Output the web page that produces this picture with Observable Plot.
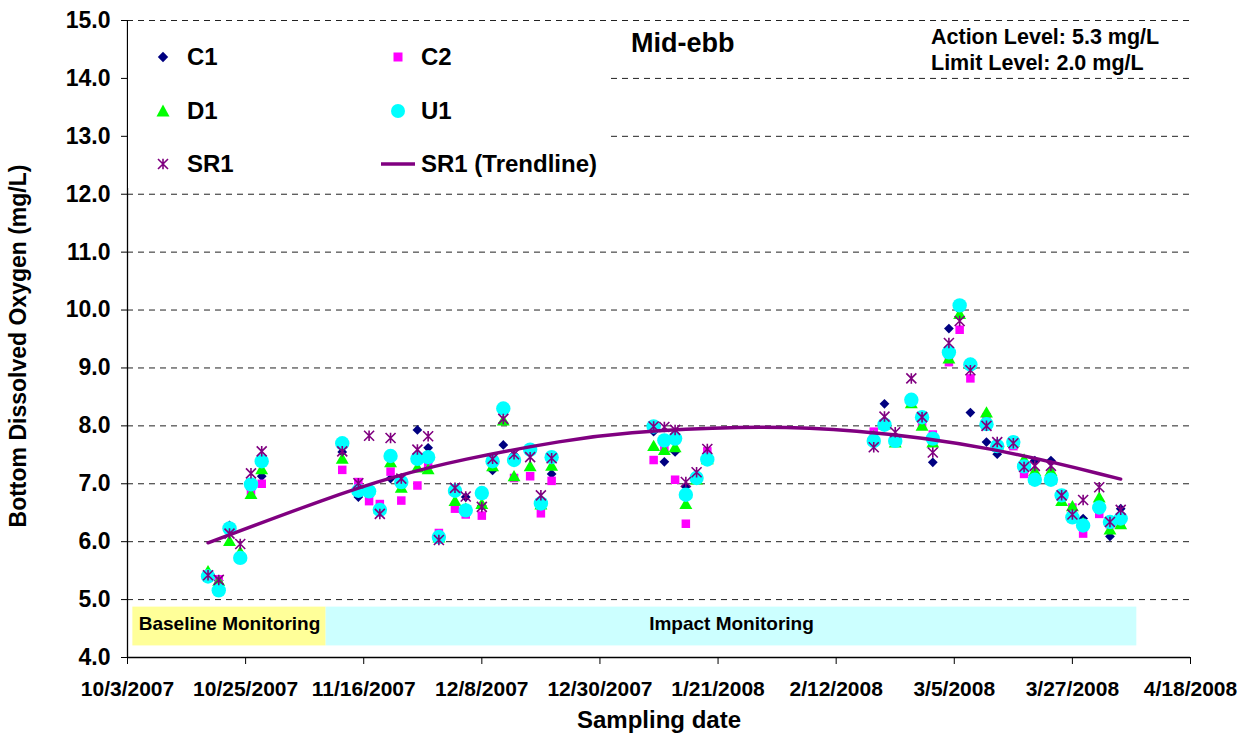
<!DOCTYPE html>
<html>
<head>
<meta charset="utf-8">
<script src="https://cdn.jsdelivr.net/npm/d3@7"></script>
<script src="https://cdn.jsdelivr.net/npm/@observablehq/plot@0.6"></script>
<style>
  body { margin: 0; background: #fff; }
  #wrap { position: relative; width: 1242px; height: 740px; font-family: "Liberation Sans", Arial, sans-serif; font-weight: bold; color: #000; }
  #wrap svg { display: block; }
  .legend { position: absolute; left: 128px; top: 21px; width: 478px; height: 167px; background: #fff; }
  .lgtext { position: absolute; font-size: 24px; line-height: 24px; white-space: nowrap; }
  .sw { position: absolute; overflow: visible; }
  .note { position: absolute; white-space: nowrap; }
</style>
</head>
<body>
<div id="wrap"></div>
<script>
// ---------------- data ----------------
const sampleDates = [
  "10/18/2007","10/20/2007","10/22/2007","10/24/2007","10/26/2007","10/28/2007",
  "11/12/2007","11/15/2007","11/17/2007","11/19/2007","11/21/2007","11/23/2007","11/26/2007","11/28/2007","11/30/2007",
  "12/3/2007","12/5/2007","12/8/2007","12/10/2007","12/12/2007","12/14/2007","12/17/2007","12/19/2007","12/21/2007",
  "1/9/2008","1/11/2008","1/13/2008","1/15/2008","1/17/2008","1/19/2008",
  "2/19/2008","2/21/2008","2/23/2008","2/26/2008","2/28/2008","3/1/2008","3/4/2008","3/6/2008","3/8/2008",
  "3/11/2008","3/13/2008","3/16/2008","3/18/2008","3/20/2008","3/23/2008","3/25/2008","3/27/2008","3/29/2008",
  "4/1/2008","4/3/2008","4/5/2008"
];
const c1 = [5.45,5.33,6.28,5.75,6.90,7.13, 7.55,6.77,6.85,6.55,7.09,6.98,7.93,7.62,6.05, 6.90,6.77,6.62,7.23,7.67,7.50,7.55,6.65,7.17, 7.90,7.38,7.55,6.95,7.15,7.45, 7.80,8.38,7.75,8.40,8.10,7.37,9.68,10.00,8.23, 7.72,7.51,7.70,7.30,7.40,7.40,6.80,6.50,6.40, 6.60,6.09,6.57];
const c2 = [5.40,5.35,6.20,5.70,6.88,7.00, 7.24,7.03,6.70,6.65,7.21,6.71,6.97,7.33,6.15, 6.57,6.47,6.45,7.45,8.30,7.10,7.13,6.49,7.05, 7.41,7.63,7.07,6.31,7.10,7.56, 7.90,8.00,7.75,8.40,8.00,7.85,9.10,9.66,8.82, 8.15,7.65,7.65,7.17,7.10,7.13,6.78,6.59,6.14, 6.48,6.30,6.35];
const d1 = [5.47,5.30,5.99,5.80,6.80,7.23, 7.41,6.88,6.88,6.55,7.35,6.91,7.26,7.23,6.05, 6.68,6.55,6.63,7.28,8.07,7.11,7.28,6.62,7.29, 7.63,7.56,7.61,6.63,7.05,7.40, 7.80,8.00,7.69,8.37,7.98,7.69,9.14,9.91,9.05, 8.21,7.65,7.70,7.40,7.20,7.20,6.68,6.59,6.30, 6.74,6.19,6.28];
const u1 = [5.40,5.16,6.23,5.72,6.99,7.39, 7.70,6.88,6.87,6.55,7.48,7.03,7.43,7.46,6.08, 6.88,6.54,6.84,7.39,8.30,7.41,7.59,6.66,7.46, 7.99,7.75,7.78,6.81,7.10,7.42, 7.74,8.02,7.74,8.45,8.15,7.78,9.27,10.08,9.06, 8.03,7.65,7.72,7.30,7.07,7.07,6.80,6.42,6.28, 6.59,6.34,6.40];
const sr1 = [5.42,5.34,6.14,5.96,7.18,7.56, 7.56,7.01,7.83,6.48,7.79,7.09,7.59,7.82,6.03, 6.93,6.78,6.60,7.43,8.12,7.51,7.46,6.80,7.44, 7.99,7.98,7.93,7.03,7.20,7.60, 7.63,8.16,7.89,8.82,8.15,7.54,9.43,9.81,8.96, 8.00,7.72,7.70,7.29,7.31,7.31,6.80,6.47,6.72, 6.94,6.34,6.55];

// SR1 trendline
const trendDates  = ["10/18/2007","11/10/2007","11/21/2007","12/4/2007","12/24/2007","1/3/2008","1/25/2008","2/15/2008","3/12/2008","4/5/2008"];
const trendValues = [5.98,6.78,7.11,7.42,7.76,7.88,8.00,7.95,7.64,7.08];

// monitoring phases
const phaseNames  = ["Baseline Monitoring","Impact Monitoring"];
const phaseStarts = ["10/4/2007","11/9/2007"];
const phaseEnds   = ["11/9/2007","4/8/2008"];

// axes
const xTickLabels = ["10/3/2007","10/25/2007","11/16/2007","12/8/2007","12/30/2007","1/21/2008","2/12/2008","3/5/2008","3/27/2008","4/18/2008"];
const yTicks = [4,5,6,7,8,9,10,11,12,13,14,15];

const seriesNames = ["C1","C2","D1","U1","SR1","SR1 (Trendline)"];
const chartTitle = "Mid-ebb";
const notes = ["Action Level: 5.3 mg/L","Limit Level: 2.0 mg/L"];
const xTitle = "Sampling date";
const yTitle = "Bottom Dissolved Oxygen (mg/L)";

// ---------------- build ----------------
function parseMDY(s) { const [m, d, y] = s.split("/").map(Number); return new Date(Date.UTC(y, m - 1, d)); }

const rows = sampleDates.map((s, i) => ({date: parseMDY(s), C1: c1[i], C2: c2[i], D1: d1[i], U1: u1[i], SR1: sr1[i]}));
const trend = trendDates.map((s, i) => ({date: parseMDY(s), value: trendValues[i]}));
const phases = phaseNames.map((n, i) => ({name: n, start: parseMDY(phaseStarts[i]), end: parseMDY(phaseEnds[i])}));
const xTicks = xTickLabels.map(parseMDY);

const COLORS = {C1: "#000080", C2: "#FF00FF", D1: "#00FF00", U1: "#00FFFF", SR1: "#800080"};
const PHASE_FILL = ["#FFFF99", "#CCFFFF"];

const star = {
  draw(ctx, size) {
    const r = Math.sqrt(size / Math.PI);
    ctx.moveTo(-r, -r); ctx.lineTo(r, r);
    ctx.moveTo(-r, r); ctx.lineTo(r, -r);
    ctx.moveTo(0, -r * 1.05); ctx.lineTo(0, r * 1.05);
  }
};

const chart = Plot.plot({
  width: 1242,
  height: 740,
  marginLeft: 127,
  marginRight: 52,
  marginTop: 20,
  marginBottom: 83,
  style: {fontFamily: "'Liberation Sans', Arial, sans-serif", fontWeight: "bold", fontSize: "21px", color: "#000", background: "#fff"},
  x: {type: "utc", domain: [xTicks[0], xTicks[xTicks.length - 1]]},
  y: {domain: [4, 15]},
  marks: [
    Plot.gridY({ticks: yTicks.slice(1), stroke: "#222", strokeOpacity: 1, strokeWidth: 1, strokeDasharray: "6,5"}),
    Plot.rect(phases, {x1: "start", x2: "end", y1: 4.2, y2: 4.87, fill: d => PHASE_FILL[phaseNames.indexOf(d.name)]}),
    Plot.text(phases, {x: d => new Date((+d.start + +d.end) / 2), y: 4.58, text: "name", fontSize: 19, fontWeight: "bold", fill: "#000"}),
    Plot.ruleX([xTicks[0]], {stroke: "#000", strokeWidth: 1.3}),
    Plot.ruleY([4], {stroke: "#000", strokeWidth: 1.3}),
    Plot.axisY({ticks: yTicks, tickFormat: d => d.toFixed(1), tickSize: 6, tickPadding: 11, fontSize: 23, label: null, stroke: "#000"}),
    Plot.axisX({ticks: xTicks, tickFormat: (d, i) => xTickLabels[i], tickSize: 7, tickPadding: 17, fontSize: 21, label: null, stroke: "#000"}),
    Plot.text([xTitle], {frameAnchor: "bottom", dy: 70, text: d => d, fontSize: 24, fontWeight: "bold"}),
    Plot.text([yTitle], {frameAnchor: "left", textAnchor: "middle", rotate: -90, dx: -109, dy: 7, text: d => d, fontSize: 23, fontWeight: "bold"}),
    Plot.dot(rows, {x: "date", y: "C1", symbol: "diamond2", r: 4.4, fill: COLORS.C1}),
    Plot.dot(rows, {x: "date", y: "C2", symbol: "square", r: 4.8, fill: COLORS.C2}),
    Plot.dot(rows, {x: "date", y: "D1", symbol: "triangle", r: 4.8, fill: COLORS.D1}),
    Plot.dot(rows, {x: "date", y: "U1", symbol: "circle", r: 7.2, fill: COLORS.U1}),
    Plot.dot(rows, {x: "date", y: "SR1", symbol: star, r: 5, stroke: COLORS.SR1, strokeWidth: 1.6, fill: "none"}),
    Plot.line(trend, {x: "date", y: "value", stroke: COLORS.SR1, strokeWidth: 3.4, curve: "basis"})
  ]
});

const wrap = document.getElementById("wrap");
wrap.appendChild(chart);

// legend (inside the plot area, white box hides gridlines)
function swatch(name) {
  const c = COLORS[name.split(" ")[0]];
  if (name === "C1") return `<path d="M0,-5.2L5.2,0L0,5.2L-5.2,0Z" fill="${c}"/>`;
  if (name === "C2") return `<rect x="-4.5" y="-4.5" width="9" height="9" fill="${c}"/>`;
  if (name === "D1") return `<path d="M0,-6.5L6.5,5.5L-6.5,5.5Z" fill="${c}"/>`;
  if (name === "U1") return `<circle r="7" fill="${c}"/>`;
  if (name === "SR1") return `<path d="M-5,-5L5,5M-5,5L5,-5M0,-5.3L0,5.3" stroke="${c}" stroke-width="1.6" fill="none"/>`;
  return `<line x1="-17" x2="17" y1="0" y2="0" stroke="${c}" stroke-width="3.4"/>`;
}
const legend = document.createElement("div");
legend.className = "legend";
const colSwatchX = [35, 270], colTextX = [59, 293], rowY = [36, 90, 143];
seriesNames.forEach((n, i) => {
  const col = i % 2, row = Math.floor(i / 2);
  const sw = document.createElementNS("http://www.w3.org/2000/svg", "svg");
  sw.setAttribute("class", "sw");
  sw.setAttribute("width", 40); sw.setAttribute("height", 20);
  sw.setAttribute("viewBox", "-20 -10 40 20");
  sw.style.left = (colSwatchX[col] - 20) + "px";
  sw.style.top = (rowY[row] - 10) + "px";
  sw.innerHTML = swatch(n);
  legend.appendChild(sw);
  const t = document.createElement("div");
  t.className = "lgtext";
  t.textContent = n;
  t.style.left = colTextX[col] + "px";
  t.style.top = (rowY[row] - 12) + "px";
  legend.appendChild(t);
});
wrap.appendChild(legend);

const title = document.createElement("div");
title.className = "note";
title.style.cssText = "left:631px;top:30px;font-size:27px;line-height:27px;";
title.textContent = chartTitle;
wrap.appendChild(title);

notes.forEach((s, i) => {
  const d = document.createElement("div");
  d.className = "note";
  d.style.cssText = `left:931px;top:${27 + i * 26}px;font-size:21.5px;line-height:21.5px;`;
  d.textContent = s;
  wrap.appendChild(d);
});
</script>
</body>
</html>
